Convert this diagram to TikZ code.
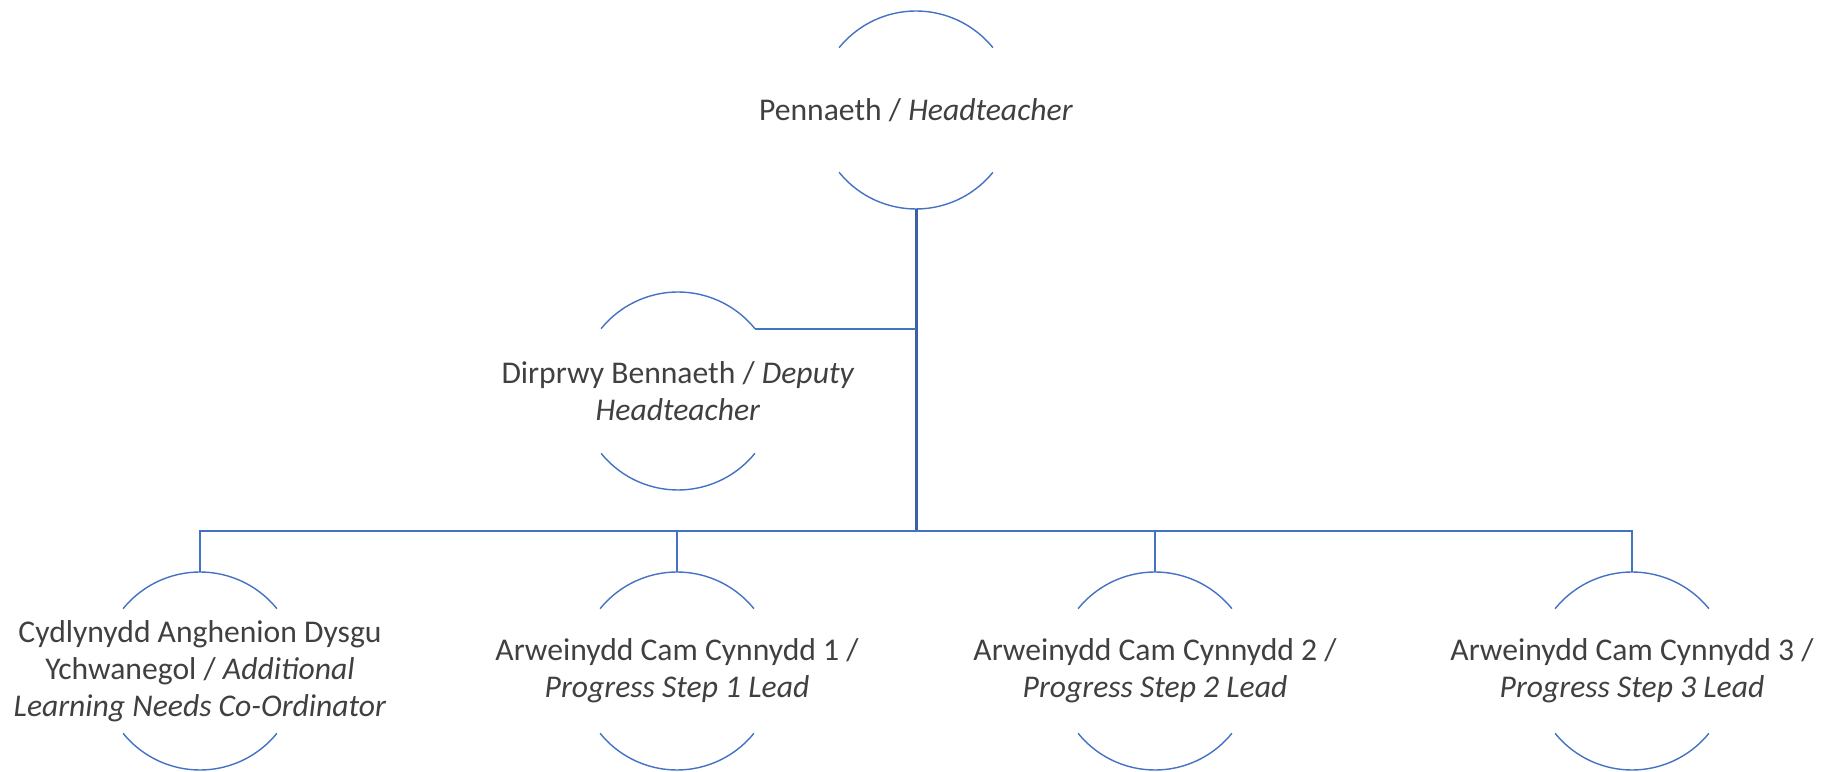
\documentclass[tikz,border=0pt]{standalone}
\usepackage{fontspec}
\setmainfont{Carlito}
\definecolor{orgblue}{RGB}{68,114,196}
\definecolor{orgtext}{RGB}{64,64,64}
\newcommand{\rolesize}{\fontsize{18}{21}\selectfont}

\begin{document}
\begin{tikzpicture}[x=0.02cm,y=0.02cm]
                        \tikzstyle{ring}=[circle, minimum size=3.96cm, inner sep=0pt, outer sep=0pt]
                        \tikzstyle{role}=[align=center, text=orgtext, font=\rolesize]
                        \tikzstyle{rim}=[orgblue, line width=0.8pt]
                        \tikzstyle{link}=[orgblue, line width=1.1pt]
                        \tikzstyle{trunk}=[orgblue!85!black, line width=1.7pt]
                        \useasboundingbox (0,0) rectangle (1829,771);
                        % circles
                        \node[ring] (head) at (916,661) {};
                        \node[ring] (deputy) at (678,380) {};
                        \node[ring] (alnco) at (200,100) {};
                        \node[ring] (ps1) at (677,100) {};
                        \node[ring] (ps2) at (1155,100) {};
                        \node[ring] (ps3) at (1632,100) {};
                        % texts
                        \node[role] (headtext) at (head) {Pennaeth / \textit{Headteacher}};
                        \node[role] (deputytext) at (deputy) {Dirprwy Bennaeth / \textit{Deputy}\\ \textit{Headteacher}};
                        \node[role] (alncotext) at (alnco) {Cydlynydd Anghenion Dysgu\\ Ychwanegol / \textit{Additional}\\ \textit{Learning Needs Co-Ordinator}};
                        \node[role] (ps1text) at (ps1) {Arweinydd Cam Cynnydd 1 /\\ \textit{Progress Step 1 Lead}};
                        \node[role] (ps2text) at (ps2) {Arweinydd Cam Cynnydd 2 /\\ \textit{Progress Step 2 Lead}};
                        \node[role] (ps3text) at (ps3) {Arweinydd Cam Cynnydd 3 /\\ \textit{Progress Step 3 Lead}};
                        \foreach \n in {head,deputy,alnco,ps1,ps2,ps3}{
                            \draw[rim] (\n.39) arc[start angle=39, end angle=141, radius=1.98cm];
                            \draw[rim] (\n.219) arc[start angle=219, end angle=321, radius=1.98cm];
                        }
                        % connectors
                        \coordinate (bus) at (916,240);
                        \draw[trunk] (head.south) -- (bus);
                        \draw[link] (deputy.39) -- (deputy.39 -| bus);
                        \foreach \n in {alnco,ps1,ps2,ps3}
                            \draw[link] (\n.north) |- (bus);
                    \end{tikzpicture}
\end{document}
